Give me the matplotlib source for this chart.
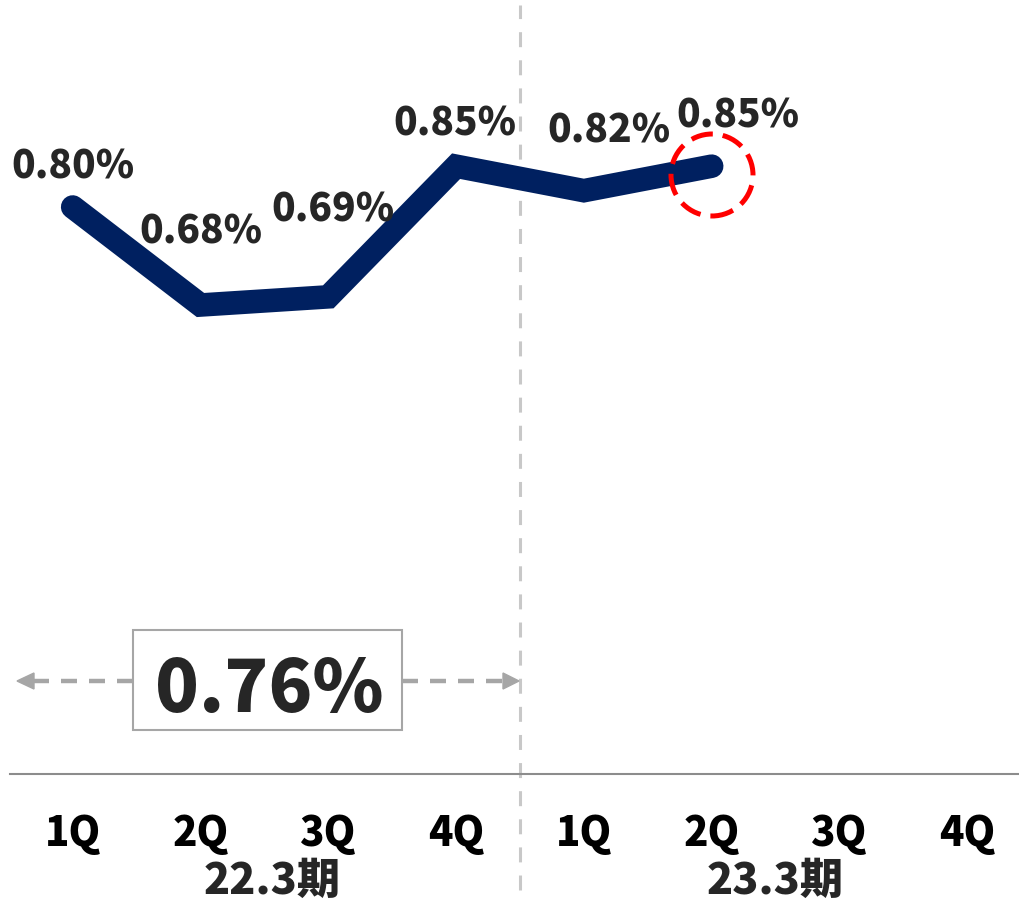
import matplotlib
matplotlib.use('Agg')
import matplotlib.pyplot as plt
from matplotlib.patches import Ellipse, Rectangle, Polygon
from matplotlib.lines import Line2D

plt.rcParams['font.family'] = ['Noto Sans CJK JP', 'DejaVu Sans']

# data
quarters = ['1Q', '2Q', '3Q', '4Q', '1Q', '2Q', '3Q', '4Q']
periods = ['22.3期', '23.3期']
ratio = [0.80, 0.68, 0.69, 0.85, 0.82, 0.85]
ratio_labels = ['0.80%', '0.68%', '0.69%', '0.85%', '0.82%', '0.85%']
avg_label = '0.76%'

# label placement relative to each point (pixels, baseline of text)
label_offsets = [(0, 29), (0, 62), (5, 75), (-1, 31), (25, 48), (26, 39)]

W, H = 1019, 902
NAVY = '#002060'
GREY = '#a6a6a6'
TXT = '#262626'
WEIGHT = 'black'


def fx(px):
    return px / W


def fy(py):
    return 1 - py / H


fig = plt.figure(figsize=(W / 100, H / 100), dpi=100)
ax = fig.add_axes([fx(10), fy(774), fx(1009), 774 / H])
ax.set_xlim(-0.4906, 7.405)
ax.set_ylim(0.1057, 1.0535)
for s in ['top', 'right', 'left']:
    ax.spines[s].set_visible(False)
ax.spines['bottom'].set_color('#8c8c8c')
ax.spines['bottom'].set_linewidth(1.5)
ax.set_xticks([])
ax.set_yticks([])

# main line
xs = list(range(len(ratio)))
ax.plot(xs, ratio, color=NAVY, lw=17, solid_capstyle='round',
        solid_joinstyle='miter', zorder=3)

for i, (v, lbl) in enumerate(zip(ratio, ratio_labels)):
    dx, dy = label_offsets[i]
    ax.annotate(lbl, xy=(i, v), xytext=(dx, dy), textcoords='offset pixels',
                ha='center', va='baseline', fontsize=28, fontweight=WEIGHT,
                color=TXT, zorder=4)

# category labels
for i, q in enumerate(quarters):
    ax.annotate(q, xy=(i, 0), xycoords=('data', 'axes fraction'),
                xytext=(0, -72), textcoords='offset pixels',
                ha='center', va='baseline', fontsize=29, fontweight=WEIGHT,
                color='black', annotation_clip=False)
for j, p in enumerate(periods):
    ax.annotate(p, xy=(1.5 + 4 * j, 0), xycoords=('data', 'axes fraction'),
                xytext=(8 if j == 0 else 0, -120), textcoords='offset pixels',
                ha='center', va='baseline', fontsize=31, fontweight=WEIGHT,
                color=TXT, annotation_clip=False)

# separator between fiscal years
ax.axvline(3.5, ymin=(774 - 890) / 774, ymax=(774 - 5) / 774, clip_on=False,
           color='#c8c8c8', lw=2.2, dashes=(4.9, 4.3), zorder=1)

# average box with dashed arrows
fig.add_artist(Rectangle((fx(133), fy(730)), fx(269), 100 / H,
                         transform=fig.transFigure, facecolor='white',
                         edgecolor=GREY, lw=1.5, zorder=5))
fig.text(fx(269), fy(712), avg_label, ha='center', va='baseline',
         fontsize=52, fontweight=WEIGHT, color=TXT, zorder=6)
fig.add_artist(Line2D([fx(133), fx(33)], [fy(681), fy(681)], color=GREY,
                      lw=3.2, dashes=(3.6, 2.7), transform=fig.transFigure))
fig.add_artist(Line2D([fx(402), fx(505)], [fy(681), fy(681)], color=GREY,
                      lw=3.2, dashes=(3.6, 2.7), transform=fig.transFigure))
fig.add_artist(Polygon([(fx(17), fy(681)), (fx(34), fy(673)), (fx(34), fy(689))],
                       closed=True, color=GREY, transform=fig.transFigure))
fig.add_artist(Polygon([(fx(519), fy(681)), (fx(503), fy(673)), (fx(503), fy(689))],
                       closed=True, color=GREY, transform=fig.transFigure))

# highlight latest quarter
fig.add_artist(Ellipse((fx(712), fy(175)), fx(82), 82 / H,
                       transform=fig.transFigure, fill=False,
                       edgecolor='#ff0000', lw=3.6, ls=(0, (4.4, 2.0)),
                       zorder=7))

fig.savefig('out.png', dpi=100)
